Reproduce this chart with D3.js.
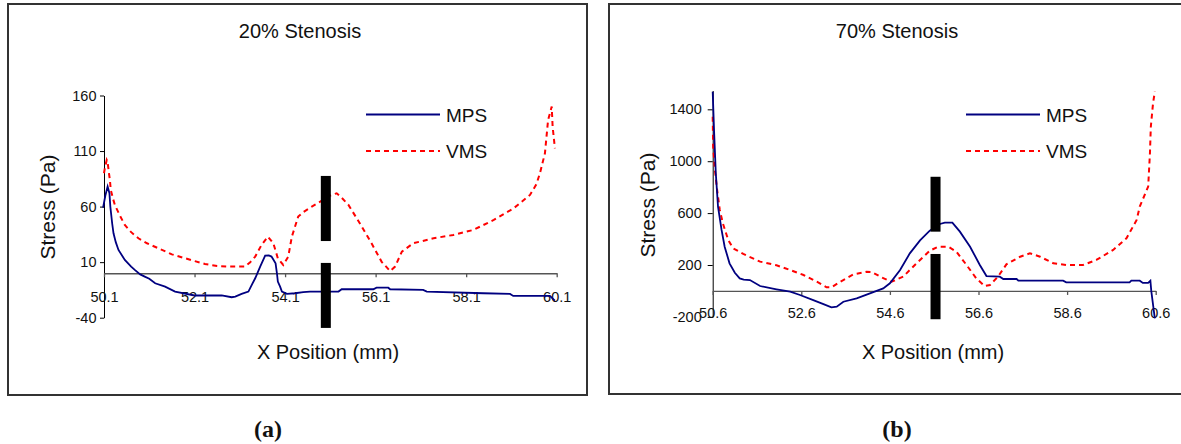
<!DOCTYPE html>
<html>
<head>
<meta charset="utf-8">
<script src="https://cdn.jsdelivr.net/npm/d3@7"></script>
<style>
  html, body { margin: 0; padding: 0; background: #fff; }
  svg { display: block; }
  text { font-family: "Liberation Sans", Arial, sans-serif; fill: #111; }
</style>
</head>
<body>
<svg id="chart" width="1181" height="444"></svg>
<script>
// ---------------- DATA ----------------
const seriesNames = ["MPS", "VMS"];
const panelTitles = ["20% Stenosis", "70% Stenosis"];
const panelLetters = ["(a)", "(b)"];
const xAxisTitle = "X Position (mm)";
const yAxisTitle = "Stress (Pa)";

const xTicksA = [50.1, 52.1, 54.1, 56.1, 58.1, 60.1];
const yTicksA = [-40, 10, 60, 110, 160];
const xTicksB = [50.6, 52.6, 54.6, 56.6, 58.6, 60.6];
const yTicksB = [-200, 200, 600, 1000, 1400];

// 20% stenosis: [x (mm), stress (Pa)]
const mpsA = [[50.08,59],[50.13,70],[50.18,78],[50.22,72],[50.24,60],[50.28,45],[50.31,36],[50.36,28],[50.42,21],
  [50.56,12],[50.7,6],[50.78,3],[50.9,-1],[51.0,-3],[51.1,-5],[51.23,-9],[51.45,-12],[51.67,-16.5],[52.1,-20],
  [52.7,-20],[52.92,-21.6],[53.0,-21],[53.14,-18.6],[53.29,-16.5],[53.37,-10],[53.44,-4.5],[53.55,6],[53.66,15.8],
  [53.74,16],[53.8,15],[53.89,9],[53.92,0],[53.94,-7.5],[53.99,-12],[54.03,-16.5],[54.14,-18.6],[54.32,-18],
  [54.5,-17],[54.65,-16.5],[55.28,-16.5],[55.35,-14.4],[56.05,-14.4],[56.12,-13],[56.38,-13],[56.42,-14.4],
  [57.15,-15],[57.23,-16.5],[58.48,-18],[59.07,-18.6],[59.14,-20.4],[59.95,-20.4],[60.06,-24.6]];
const vmsA = [[50.1,90],[50.12,95],[50.16,102],[50.18,100],[50.21,90],[50.23,84],[50.25,75],[50.3,67],[50.34,61.5],
  [50.45,52],[50.56,43.5],[50.7,37],[50.86,31.5],[51.05,27],[51.3,22.5],[51.6,17],[51.89,13.5],[52.1,11],
  [52.33,8.4],[52.6,6.5],[52.85,6],[53.21,6],[53.33,10],[53.44,15],[53.58,25.5],[53.72,33],[53.84,27],[53.94,13.5],
  [54.06,7.5],[54.17,15],[54.25,33],[54.39,51],[54.5,55],[54.69,60],[54.94,66],[55.1,70],[55.24,72],[55.35,68],
  [55.5,61.5],[55.75,45],[56.01,27],[56.23,10.5],[56.42,2],[56.53,6],[56.68,19.5],[56.93,27],[57.38,31.5],
  [57.82,34.5],[58.26,39],[58.71,48],[59.15,58.5],[59.51,70.5],[59.65,80],[59.73,90],[59.84,108],[59.91,138],
  [59.99,150],[60.01,132],[60.06,112.5]];
// stenosis marker: [x, yTop, yBottom] for upper and lower bar
const stenosisA = [[55.0, 87.6, 29], [55.0, 9.3, -49.2]];

// 70% stenosis
const mpsB = [[50.6,1536],[50.63,1240],[50.67,907],[50.72,650],[50.8,470],[50.87,341],[50.98,213],[51.1,140],
  [51.21,97],[51.3,88],[51.44,84],[51.67,38],[52.04,13],[52.35,-6],[52.57,-31],[52.87,-70],[53.1,-101],[53.28,-126],
  [53.4,-121],[53.55,-83],[53.85,-57],[54.15,-18],[54.45,20],[54.6,59],[54.83,161],[55.05,290],[55.28,390],
  [55.5,465],[55.73,516],[55.84,526],[56.01,526],[56.18,457],[56.41,341],[56.63,200],[56.78,115],[57.08,110],
  [57.16,92],[57.46,92],[57.5,79],[58.51,79],[58.58,66],[60.01,66],[60.05,79],[60.24,79],[60.31,62],[60.43,62],
  [60.48,79],[60.5,0],[60.58,-211]];
const vmsB = [[50.6,1343],[50.61,1112],[50.65,932],[50.7,778],[50.76,624],[50.83,521],[50.95,393],[51.06,329],
  [51.29,285],[51.67,226],[52.04,198],[52.35,161],[52.65,123],[52.95,71],[53.17,28],[53.28,28],[53.48,71],
  [53.78,128],[54.07,148],[54.19,146],[54.41,105],[54.64,71],[54.9,110],[55.2,213],[55.5,310],[55.69,341],
  [55.92,341],[56.1,303],[56.33,200],[56.55,97],[56.74,38],[56.86,46],[57.04,110],[57.23,205],[57.54,264],
  [57.76,290],[57.99,264],[58.29,213],[58.58,200],[58.96,200],[59.26,239],[59.64,316],[59.94,406],[60.17,547],
  [60.24,650],[60.43,804],[60.47,1061],[60.49,1266],[60.54,1446],[60.58,1536]];
const stenosisB = [[55.63, 880, 457], [55.63, 285, -218]];

// ---------------- LAYOUT ----------------
const panels = [
  { frame: [8, 4, 579, 391], xDom: [50.1, 60.1], xRange: [104, 556.7], yDom: [-40, 160], yRange: [317.7, 95.5],
    xTicks: xTicksA, yTicks: yTicksA, mps: mpsA, vms: vmsA, sten: stenosisA,
    title: panelTitles[0], titleX: 300, yLabX: 48, yLabY: 207, xLabX: 328, letter: panelLetters[0], letterX: 268,
    ytSize: 4, ytPad: 3.5, xLabOff: 23.4, legX: 366 },
  { frame: [609, 4, 620, 390], xDom: [50.6, 60.6], xRange: [712.7, 1155.7], yDom: [-200, 1545], yRange: [316.9, 90.5],
    xTicks: xTicksB, yTicks: yTicksB, mps: mpsB, vms: vmsB, sten: stenosisB,
    title: panelTitles[1], titleX: 897, yLabX: 648, yLabY: 205, xLabX: 933, letter: panelLetters[1], letterX: 897,
    ytSize: 5, ytPad: 6, xLabOff: 21.7, legX: 966 }
];

const svg = d3.select("#chart");
const colors = { MPS: "#000080", VMS: "#ff0000" };
const hyphenInt = d => String(Math.round(d));

panels.forEach(p => {
  const g = svg.append("g");
  g.append("rect").attr("x", p.frame[0]).attr("y", p.frame[1]).attr("width", p.frame[2]).attr("height", p.frame[3])
    .attr("fill", "#fff").attr("stroke", "#333").attr("stroke-width", 2);

  const x = d3.scaleLinear().domain(p.xDom).range(p.xRange);
  const y = d3.scaleLinear().domain(p.yDom).range(p.yRange);

  // Y axis
  const yAx = g.append("g").attr("transform", `translate(${p.xRange[0]},0)`)
    .call(d3.axisLeft(y).tickValues(p.yTicks).tickFormat(hyphenInt).tickSize(p.ytSize).tickSizeOuter(0).tickPadding(p.ytPad));
  yAx.selectAll("text").attr("font-size", 14.5).attr("fill", "#111").style("font-family", '"Liberation Sans", Arial, sans-serif');
  yAx.selectAll("line,path").attr("stroke", "#000");

  // X axis at y = 0
  const xAx = g.append("g").attr("transform", `translate(0,${y(0)})`)
    .call(d3.axisBottom(x).tickValues(p.xTicks).tickFormat(d3.format(".1f")).tickSize(4).tickSizeOuter(0));
  xAx.selectAll("text").attr("font-size", 14.5).attr("fill", "#111").attr("y", p.xLabOff).attr("dy", "0.35em")
    .style("font-family", '"Liberation Sans", Arial, sans-serif');
  xAx.selectAll("line,path").attr("stroke", "#555").attr("stroke-width", 1.3);

  // series
  const line = d3.line().x(d => x(d[0])).y(d => y(d[1]));
  g.append("path").datum(p.vms).attr("d", line).attr("fill", "none").attr("stroke", colors.VMS)
    .attr("stroke-width", 2).attr("stroke-dasharray", "5,4");
  g.append("path").datum(p.mps).attr("d", line).attr("fill", "none").attr("stroke", colors.MPS)
    .attr("stroke-width", 1.8);

  // stenosis bars
  g.selectAll("rect.sten").data(p.sten).join("rect").attr("class", "sten")
    .attr("x", d => x(d[0]) - 5).attr("width", 10)
    .attr("y", d => y(d[1])).attr("height", d => y(d[2]) - y(d[1])).attr("fill", "#000");

  // legend
  const leg = [ { name: seriesNames[0], yy: 114.5 }, { name: seriesNames[1], yy: 151 } ];
  leg.forEach(l => {
    g.append("line").attr("x1", p.legX).attr("x2", p.legX + 74).attr("y1", l.yy).attr("y2", l.yy)
      .attr("stroke", colors[l.name]).attr("stroke-width", 2)
      .attr("stroke-dasharray", l.name === "VMS" ? "5,4" : null);
    g.append("text").attr("x", p.legX + 80).attr("y", l.yy + 7).attr("font-size", 19).text(l.name);
  });

  // titles
  g.append("text").attr("x", p.titleX).attr("y", 38).attr("text-anchor", "middle").attr("font-size", 20).text(p.title);
  g.append("text").attr("transform", `translate(${p.yLabX},${p.yLabY}) rotate(-90)`).attr("text-anchor", "middle")
    .attr("dy", "0.35em").attr("font-size", 21).text(yAxisTitle);
  g.append("text").attr("x", p.xLabX).attr("y", 359).attr("text-anchor", "middle").attr("font-size", 20).text(xAxisTitle);
  svg.append("text").attr("x", p.letterX).attr("y", 437).attr("text-anchor", "middle").attr("font-size", 24)
    .attr("font-weight", "bold").style("font-family", '"Liberation Serif", "Times New Roman", serif').text(p.letter);
});
</script>
</body>
</html>
